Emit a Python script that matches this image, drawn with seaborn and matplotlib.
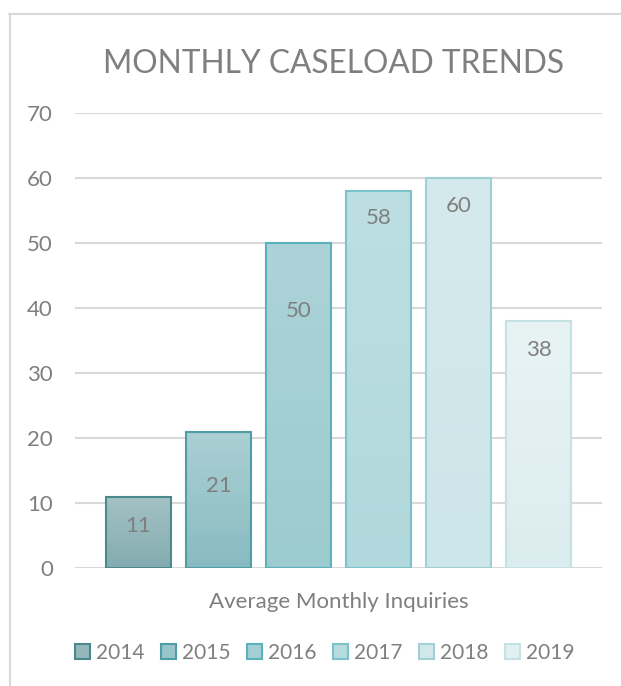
import numpy as np
import pandas as pd
import matplotlib
matplotlib.use("Agg")
import matplotlib.pyplot as plt
import seaborn as sns
from matplotlib.colors import to_rgb
from matplotlib.patches import Patch
from matplotlib.lines import Line2D

# data
category = "Average Monthly Inquiries"
years = ["2014", "2015", "2016", "2017", "2018", "2019"]
values = [11, 21, 50, 58, 60, 38]

# styling per year
fill_top = ["#a3c2c5", "#abd0d4", "#acd3d8", "#bddfe3", "#d5eaec", "#e8f3f4"]
fill_bottom = ["#84acb0", "#88bbc1", "#9ccbd0", "#b1d8dc", "#cde6e9", "#dcedef"]
edge_colors = ["#4a8a8f", "#4f9ea5", "#5cb2ba", "#7cc2ca", "#a0d0d6", "#c4e1e4"]
fill_mid = ["#93b7ba", "#98c5ca", "#a4cfd4", "#b7dce0", "#d1e8ea", "#e2f0f1"]
# label distance below bar top, in pixels
label_drop = [29, 54, 68, 27, 28, 29]

txt = "#7f7f7f"
grid_c = "#d9d9d9"

sns.set_theme(style="white")
plt.rcParams["font.family"] = ["Lato", "DejaVu Sans"]

df = pd.DataFrame({"cat": [category] * len(years), "year": years, "value": values})

fig = plt.figure(figsize=(6.21, 6.86), dpi=100)
ax = fig.add_axes([75 / 621, 1 - 568 / 686, 527 / 621, 455 / 686])

sns.barplot(data=df, x="cat", y="value", hue="year", palette=fill_mid,
            width=0.911, gap=0.1875, ax=ax, legend=False, zorder=3,
            linewidth=1.5)

ax.set_ylim(0, 70)
ax.set_xlim(-0.5, 0.5)
ax.set_yticks(range(0, 71, 10))
ax.yaxis.grid(True, color=grid_c, linewidth=1.5, zorder=0)
ax.set_axisbelow(True)
for s in ax.spines.values():
    s.set_visible(False)
ax.tick_params(axis="both", length=0, labelsize=16, labelcolor=txt)
ax.tick_params(axis="y", pad=16)
ax.tick_params(axis="x", pad=17)
ax.set_xlabel("")
ax.set_ylabel("")

# gradient fill + edge colours + labels
bars = [p for p in ax.patches if p.get_height() > 0]
bars.sort(key=lambda p: p.get_x())
for i, p in enumerate(bars):
    x0, w, h = p.get_x(), p.get_width(), p.get_height()
    top = np.array(to_rgb(fill_top[i]))
    bot = np.array(to_rgb(fill_bottom[i]))
    t = np.linspace(0, 1, 100)[:, None]
    grad = (top * (1 - t) + bot * t)[:, None, :]
    im = ax.imshow(grad, extent=[x0, x0 + w, 0, h], aspect="auto",
                   origin="upper", zorder=3, interpolation="bilinear")
    im.set_clip_path(p)
    p.set_facecolor("none")
    p.set_edgecolor(edge_colors[i])
    p.set_zorder(4)
    ax.annotate(str(values[i]), (x0 + w / 2, h), xytext=(0, -label_drop[i]),
                textcoords="offset pixels", ha="center", va="center",
                fontsize=16, color=txt, zorder=5)

ax.set_xlim(-0.5, 0.5)
ax.set_ylim(0, 70)

fig.text(0.537, 1 - 64 / 686, "MONTHLY CASELOAD TRENDS", ha="center",
         va="center", fontsize=22.8, color=txt)

handles = [Patch(facecolor=fill_mid[i], edgecolor=edge_colors[i],
                 linewidth=1.5) for i in range(len(years))]
fig.legend(handles, years, loc="center", bbox_to_anchor=(0.523, 1 - 653 / 686),
           ncol=6, frameon=False, fontsize=15, labelcolor=txt,
           handlelength=0.7, handleheight=0.7, handletextpad=0.3,
           columnspacing=0.8)

# chart frame (top and left edges)
fig.add_artist(Line2D([9 / 621, 1], [1 - 14 / 686, 1 - 14 / 686],
                      color=grid_c, linewidth=1.5))
fig.add_artist(Line2D([10 / 621, 10 / 621], [0, 1 - 14 / 686],
                      color=grid_c, linewidth=1.5))

fig.savefig("out.png", dpi=100)
